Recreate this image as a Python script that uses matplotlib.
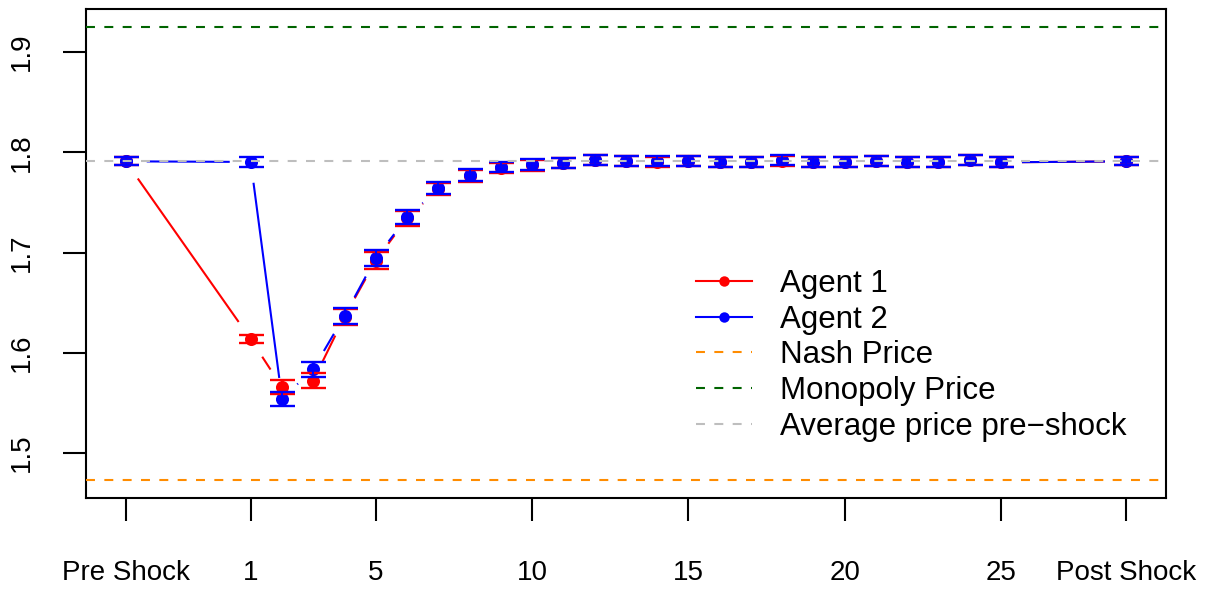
import numpy as np
import matplotlib
matplotlib.use("Agg")
import matplotlib.pyplot as plt
from matplotlib.lines import Line2D

plt.rcParams['font.family'] = ['Liberation Sans', 'DejaVu Sans']

# x positions: pre shock, periods 1..25, post shock
periods = [-3] + list(range(1, 26)) + [29]
tick_pos = [-3, 1, 5, 10, 15, 20, 25, 29]
tick_labels = ["Pre Shock", "1", "5", "10", "15", "20", "25", "Post Shock"]

agent1 = [1.791, 1.6136, 1.5657, 1.5723, 1.636, 1.692, 1.734, 1.763, 1.776, 1.784,
          1.787, 1.789, 1.792, 1.791, 1.790, 1.791, 1.790, 1.790, 1.791, 1.790,
          1.790, 1.791, 1.790, 1.790, 1.792, 1.790, 1.791]
agent1_err = [0.004, 0.0037, 0.007, 0.0075, 0.008, 0.0083, 0.0075, 0.006, 0.006, 0.005,
              0.0055, 0.005, 0.005, 0.005, 0.005, 0.005, 0.005, 0.005, 0.005, 0.005,
              0.005, 0.005, 0.005, 0.005, 0.005, 0.005, 0.004]
agent2 = [1.791, 1.7904, 1.5541, 1.5837, 1.637, 1.6945, 1.735, 1.764, 1.777, 1.785,
          1.788, 1.789, 1.792, 1.791, 1.791, 1.791, 1.790, 1.790, 1.792, 1.790,
          1.790, 1.791, 1.790, 1.790, 1.792, 1.790, 1.791]
agent2_err = [0.004, 0.005, 0.007, 0.0075, 0.008, 0.0083, 0.007, 0.006, 0.006, 0.005,
              0.0055, 0.005, 0.005, 0.005, 0.005, 0.005, 0.005, 0.005, 0.005, 0.005,
              0.005, 0.005, 0.005, 0.005, 0.005, 0.005, 0.004]

nash_price = 1.4729
monopoly_price = 1.9249
avg_pre_shock = 1.7909

W, H = 1207, 593
fig = plt.figure(figsize=(W / 100, H / 100), dpi=100)
ax = fig.add_axes([85.7 / W, 1 - 498.3 / H, (1166 - 85.7) / W, (498.3 - 9) / H])

# R-style 4% axis expansion
xr = max(periods) - min(periods)
ax.set_xlim(min(periods) - 0.04 * xr, max(periods) + 0.04 * xr)
yr = monopoly_price - nash_price
ax.set_ylim(nash_price - 0.04 * yr, monopoly_price + 0.04 * yr)


def type_b(ax, x, y, color, gap=21, lw=1.5):
    # lines with gaps around points, like R's type="b"
    pts = ax.transData.transform(np.column_stack([x, y]))
    inv = ax.transData.inverted()
    for p0, p1 in zip(pts[:-1], pts[1:]):
        d = p1 - p0
        L = np.hypot(*d)
        if L <= 2 * gap:
            continue
        a = inv.transform(p0 + d / L * gap)
        b = inv.transform(p1 - d / L * gap)
        ax.plot([a[0], b[0]], [a[1], b[1]], color=color, lw=lw,
                solid_capstyle='butt', zorder=2)
    ax.plot(x, y, 'o', color=color, ms=9.4, mew=0, zorder=3)


type_b(ax, periods, agent1, 'red')
type_b(ax, periods, agent2, 'blue')
ax.errorbar(periods, agent1, yerr=agent1_err, fmt='none', ecolor='red',
            elinewidth=1.5, capsize=9, capthick=1.7, zorder=4)
ax.errorbar(periods, agent2, yerr=agent2_err, fmt='none', ecolor='blue',
            elinewidth=1.5, capsize=9, capthick=1.7, zorder=4)

dash = (0, (4.3, 4.5))
ax.axhline(nash_price, color='darkorange', lw=1.5, ls=dash, zorder=5)
ax.axhline(monopoly_price, color='darkgreen', lw=1.5, ls=dash, zorder=5)
ax.axhline(avg_pre_shock, color='#BEBEBE', lw=1.5, ls=dash, zorder=5)

ax.set_xticks(tick_pos)
ax.set_xticklabels(tick_labels)
ax.set_yticks([1.5, 1.6, 1.7, 1.8, 1.9])
ax.set_yticklabels(["1.5", "1.6", "1.7", "1.8", "1.9"], rotation=90, va='center')
ax.tick_params(axis='both', direction='out', length=16.5, width=1.5,
               labelsize=20, color='black')
ax.tick_params(axis='x', pad=28)
ax.tick_params(axis='y', pad=20)
for s in ax.spines.values():
    s.set_linewidth(1.5)

handles = [
    Line2D([], [], color='red', lw=1.5, marker='o', ms=7.5, mew=0),
    Line2D([], [], color='blue', lw=1.5, marker='o', ms=7.5, mew=0),
    Line2D([], [], color='darkorange', lw=1.5, ls=dash),
    Line2D([], [], color='darkgreen', lw=1.5, ls=dash),
    Line2D([], [], color='#BEBEBE', lw=1.5, ls=dash),
]
labels = ["Agent 1", "Agent 2", "Nash Price", "Monopoly Price",
          "Average price pre\u2212shock"]
ax.legend(handles, labels, loc='upper left', frameon=False, fontsize=22.5,
          handlelength=1.8, handletextpad=0.9, labelspacing=0.18,
          borderpad=0, borderaxespad=0,
          bbox_to_anchor=(696 / W, 1 - 269 / H), bbox_transform=fig.transFigure)

fig.savefig("out.png", dpi=100)
